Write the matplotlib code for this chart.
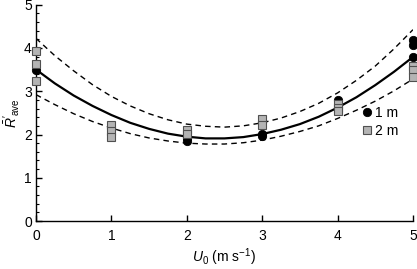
import numpy as np
import matplotlib
matplotlib.use('Agg')
from matplotlib import pyplot as plt
from matplotlib.ticker import MultipleLocator

plt.rcParams['font.family'] = 'Liberation Sans'
plt.rcParams['mathtext.fontset'] = 'custom'
plt.rcParams['mathtext.rm'] = 'Liberation Sans'
plt.rcParams['mathtext.it'] = 'Liberation Sans:italic'

# measured points, 1 m (circles) and 2 m (squares)
u_1m = [0, 2, 2, 3, 3, 4, 5, 5, 5]
r_1m = [3.50, 1.93, 1.86, 2.01, 1.97, 2.80, 4.18, 4.06, 3.79]
u_2m = [0, 0, 0, 1, 1, 1, 2, 2, 3, 3, 4, 4, 4, 5, 5, 5]
r_2m = [3.93, 3.62, 3.24, 2.22, 2.08, 1.95, 2.10, 2.02, 2.35, 2.22, 2.70, 2.62, 2.55, 3.59, 3.49, 3.33]

u_fit = [0, 0.25, 0.5, 0.75, 1, 1.25, 1.5, 1.75, 2, 2.25, 2.5,
         2.75, 3, 3.25, 3.5, 3.75, 4, 4.25, 4.5, 4.75, 5]
r_mean = [3.50, 3.18, 2.90, 2.66, 2.45, 2.27, 2.13, 2.02, 1.95, 1.91, 1.91,
          1.94, 2.01, 2.11, 2.24, 2.41, 2.62, 2.86, 3.14, 3.45, 3.79]
r_upper = [4.22, 3.82, 3.47, 3.15, 2.88, 2.66, 2.48, 2.34, 2.24, 2.19, 2.17,
           2.20, 2.27, 2.38, 2.53, 2.72, 2.96, 3.25, 3.58, 3.98, 4.42]
r_lower = [2.92, 2.69, 2.48, 2.30, 2.15, 2.02, 1.92, 1.85, 1.80, 1.78, 1.78,
           1.81, 1.87, 1.96, 2.07, 2.20, 2.37, 2.56, 2.77, 3.01, 3.28]

fig = plt.figure(figsize=(4.17, 2.69), dpi=100)
ax = fig.add_axes([0.0863, 0.178, 0.904, 0.805])

ax.plot(u_fit, r_mean, color='black', lw=1.6, zorder=2)
ax.plot(u_fit, r_upper, color='black', lw=1.0, dashes=(4, 3), zorder=2)
ax.plot(u_fit, r_lower, color='black', lw=1.0, dashes=(4, 3), zorder=2)

ax.plot(u_1m, r_1m, 'o', color='black', ms=6, mec='black', mew=0.6,
        label='1 m', clip_on=False, zorder=3)
ax.plot(u_2m, r_2m, 's', color='#b4b4b4', ms=6, mec='#505050', mew=0.8,
        label='2 m', clip_on=False, zorder=4)

ax.set_xlim(0, 5)
ax.set_ylim(0, 5)
ax.xaxis.set_major_locator(MultipleLocator(1))
ax.yaxis.set_major_locator(MultipleLocator(1))
ax.yaxis.set_minor_locator(MultipleLocator(0.2))
ax.spines['top'].set_visible(False)
ax.spines['right'].set_visible(False)
ax.spines['left'].set_linewidth(1.0)
ax.spines['bottom'].set_linewidth(1.0)
ax.tick_params(axis='both', which='major', direction='in', length=4, width=1.0,
               labelsize=10, pad=6)
ax.tick_params(axis='y', which='minor', direction='in', length=2.5, width=0.8)
ax.tick_params(axis='y', which='major', pad=3)

ax.set_xlabel(r'$U_0$ (m s$^{-1}$)', fontsize=10, labelpad=2)
ax.set_ylabel(r"$\bar{R}'_{\mathrm{ave}}$", fontsize=10)
ax.yaxis.set_label_coords(-0.036, 0.5)

ax.legend(loc='center left', bbox_to_anchor=(0.86, 0.457), frameon=False,
          fontsize=10, handletextpad=0.1, labelspacing=0.3, handlelength=1.0,
          borderaxespad=0, borderpad=0)

fig.savefig('out.png', dpi=100)
